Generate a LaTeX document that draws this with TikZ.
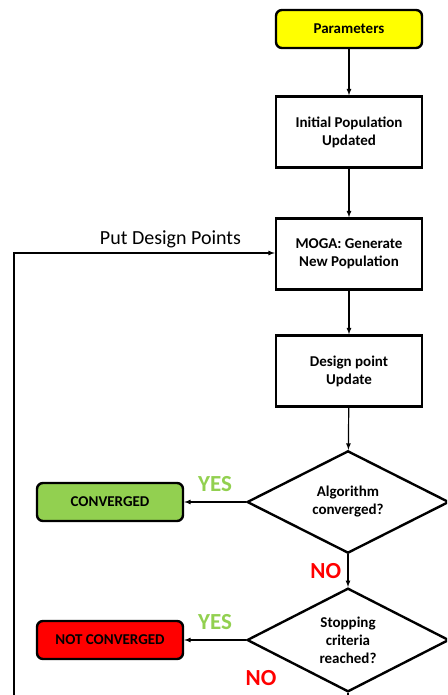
\documentclass[tikz,border=0pt]{standalone}
\usepackage{fontspec}
\setmainfont{Carlito}
\usepackage{tikz}
\usetikzlibrary{shapes.geometric}
\definecolor{paryellow}{HTML}{FFFF00}
\definecolor{convgreen}{HTML}{92D050}
\definecolor{yesgreen}{HTML}{92D050}
\definecolor{nored}{HTML}{FF0000}

\begin{document}
\begin{tikzpicture}[x=1pt, y=-1pt,
        box/.style={draw, line width=2.4pt, minimum width=146pt, minimum height=71pt,
            align=center, font=\fontsize{15}{18}\selectfont\bfseries},
        endbox/.style={box, rounded corners=6pt, minimum height=38pt},
        query/.style={diamond, draw, line width=2.4pt, minimum width=202pt, minimum height=88pt,
            inner sep=0pt, align=center, font=\fontsize{15}{18}\selectfont\bfseries},
        flow/.style={-latex, line width=1.2pt},
        answer/.style={font=\fontsize{23}{23}\selectfont\bfseries}]
        \useasboundingbox (0,0) rectangle (447,695);
        \clip (0,0) rectangle (447,695);
        % main column
        \node[endbox, fill=paryellow] (params) at (349,29) {Parameters};
        \node[box] (initpop) at (349,132) {Initial Population\\Updated};
        \node[box] (moga) at (349,254) {MOGA: Generate\\New Population};
        \node[box] (update) at (349,371) {Design point\\Update};
        \node[query] (conv) at (348,502) {Algorithm\\converged?};
        \node[query] (stop) at (348,640) {Stopping\\criteria\\reached?};
        % outcomes
        \node[endbox, fill=convgreen] (converged) at (110,502) {CONVERGED};
        \node[endbox, fill=nored] (notconv) at (110,640) {NOT CONVERGED};
        \coordinate (stopend) at (348,700);
        \coordinate (loopend) at (14,700);
        \coordinate (loopcorner) at (14,253);
        \draw[flow] (params) -- (initpop);
        \draw[flow] (initpop) -- (moga);
        \draw[flow] (moga) -- (update);
        \draw[flow] (update) -- (conv);
        \draw[flow] (conv.west) -- (converged.east) node[answer, yesgreen, midway, above=6pt] (yes1) {YES};
        \draw[flow] (conv.south) -- (stop.north) node[answer, nored, midway, left=3pt] (no1) {NO};
        \draw[flow] (stop.west) -- (notconv.east) node[answer, yesgreen, midway, above=6pt] (yes2) {YES};
        \draw[line width=1.2pt] (stop.south) -- (stopend);
        \node[answer, nored] (no2) at (261,678) {NO};
        % loop back
        \draw[flow] (loopend) -- (loopcorner) -- (moga.west |- loopcorner)
            node[pos=0.6, above=1pt, font=\fontsize{20}{20}\selectfont] (putlbl) {Put Design Points};
\end{tikzpicture}
\end{document}
